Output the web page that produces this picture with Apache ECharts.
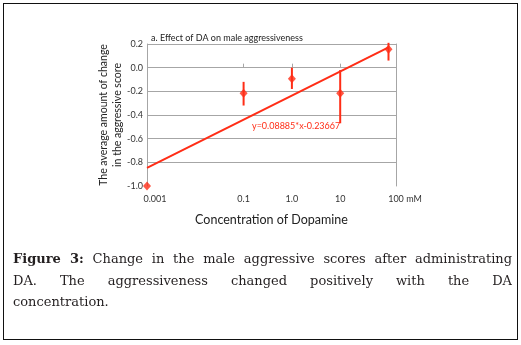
<!DOCTYPE html>
<html>
<head>
<meta charset="utf-8">
<script src="https://cdn.jsdelivr.net/npm/echarts@6/dist/echarts.min.js"></script>
<style>
  html, body { margin: 0; padding: 0; background: #fff; }
  #wrap { position: relative; width: 521px; height: 345px; overflow: hidden; }
  #chart { position: absolute; left: 0; top: 0; width: 521px; height: 345px; }
  #frame {
    position: absolute; left: 3px; top: 3px; width: 513px; height: 335px;
    border: 1.5px solid #111; pointer-events: none;
  }
  #caption {
    position: absolute; left: 13px; top: 248px; width: 499px;
    font-family: "DejaVu Serif", serif; font-size: 13px; line-height: 21.5px;
    color: #231f20;
  }
  #caption div { text-align: justify; text-align-last: justify; white-space: nowrap; }
  #caption div.last { text-align-last: left; }
</style>
</head>
<body>
<div id="wrap">
  <div id="chart"></div>
  <div id="frame"></div>
  <div id="caption">
    <div><b>Figure 3:</b> Change in the male aggressive scores after administrating</div>
    <div>DA. The aggressiveness changed positively with the DA</div>
    <div class="last">concentration.</div>
  </div>
</div>
<script>
// 数据
const concentrations = [0.001, 0.1, 1, 10, 100];
const meanChange = [-1.0, -0.217, -0.093, -0.217, 0.155];
const errLow = [-1.0, -0.32, -0.18, -0.47, 0.06];
const errHigh = [-1.0, -0.12, 0.0, -0.02, 0.21];
const trendX = [0.001, 100];
const trendY = [-0.846, 0.172];
const xLabels = { 0.001: '0.001', 0.1: '0.1', 1: '1.0', 10: '10', 100: '100 mM' };
const yTicks = [-1.0, -0.8, -0.6, -0.4, -0.2, 0.0, 0.2];

const red = '#ff2d16';
const gray = '#a6a6a6';

const chart = echarts.init(document.getElementById('chart'));

const option = {
  animation: false,
  title: {
    text: 'a. Effect of DA on male aggressiveness',
    left: 146,
    top: 29,
    textStyle: { fontFamily: 'Lato', fontSize: 9, fontWeight: 'normal', color: '#222' }
  },
  grid: { left: 147, right: 125, top: 44, bottom: 159, containLabel: false },
  xAxis: {
    type: 'log',
    logBase: 10,
    min: 0.001,
    max: 143,
    name: 'Concentration of Dopamine',
    nameLocation: 'middle',
    nameGap: 27,
    nameMoveOverlap: false,
    nameTextStyle: { fontFamily: 'Lato', fontSize: 12.5, color: '#222' },
    axisLine: { show: false },
    axisTick: {
      show: true, inside: true, length: 4,
      customValues: [0.1, 1, 10],
      lineStyle: { color: gray }
    },
    splitLine: { show: false },
    axisLabel: {
      margin: 9,
      customValues: [0.001, 0.1, 1, 10, 100],
      fontFamily: 'Lato', fontSize: 9, color: '#333',
      formatter: (v) => {
        const key = Number(v.toPrecision(3));
        if (key === 0.001) return '{a|0.001}';
        if (key === 100) return '{b|100 mM}';
        return xLabels[key] || '';
      },
      rich: {
        a: { fontFamily: 'Lato', fontSize: 9, color: '#333', padding: [0, 0, 0, 16] },
        b: { fontFamily: 'Lato', fontSize: 9, color: '#333', padding: [0, 0, 0, 33] }
      }
    }
  },
  yAxis: [
    {
      type: 'value',
      min: yTicks[0],
      max: yTicks[yTicks.length - 1],
      interval: 0.2,
      name: 'The average amount of change\nin the aggressive score',
      nameLocation: 'middle',
      nameGap: 23,
      nameMoveOverlap: false,
      nameTextStyle: { fontFamily: 'Lato', fontSize: 10.5, lineHeight: 13.5, color: '#222' },
      axisLine: { show: true, lineStyle: { color: gray } },
      axisTick: { show: false },
      splitLine: { show: true, showMinLine: false, lineStyle: { color: gray, width: 1 } },
      axisLabel: {
        margin: 4,
        fontFamily: 'Lato', fontSize: 9, color: '#333',
        formatter: (v) => v.toFixed(1)
      }
    },
    {
      type: 'value',
      position: 'right',
      min: yTicks[0],
      max: yTicks[yTicks.length - 1],
      interval: 0.2,
      axisLine: { show: true, lineStyle: { color: gray } },
      axisTick: { show: false },
      axisLabel: { show: false },
      splitLine: { show: false }
    }
  ],
  graphic: [
    {
      type: 'text',
      left: 252,
      top: 122,
      style: {
        text: 'y=0.08885*x-0.23667',
        fontFamily: 'Lato', fontSize: 9, fill: red
      }
    }
  ],
  series: [
    {
      name: 'trend',
      type: 'line',
      data: trendX.map((x, i) => [x, trendY[i]]),
      symbol: 'none',
      lineStyle: { color: red, width: 2 },
      z: 3
    },
    {
      name: 'error',
      type: 'custom',
      data: concentrations.map((x, i) => [x, errLow[i], errHigh[i]]),
      renderItem: (params, api) => {
        const p1 = api.coord([api.value(0), api.value(1)]);
        const p2 = api.coord([api.value(0), api.value(2)]);
        return {
          type: 'line',
          shape: { x1: p1[0], y1: p1[1], x2: p2[0], y2: p2[1] },
          style: { stroke: red, lineWidth: 2 }
        };
      },
      z: 4
    },
    {
      name: 'mean',
      type: 'scatter',
      data: concentrations.map((x, i) => [x, meanChange[i]]),
      symbol: 'diamond',
      symbolSize: [8, 9],
      itemStyle: { color: red },
      clip: false,
      z: 5
    }
  ]
};

chart.setOption(option);
</script>
</body>
</html>
